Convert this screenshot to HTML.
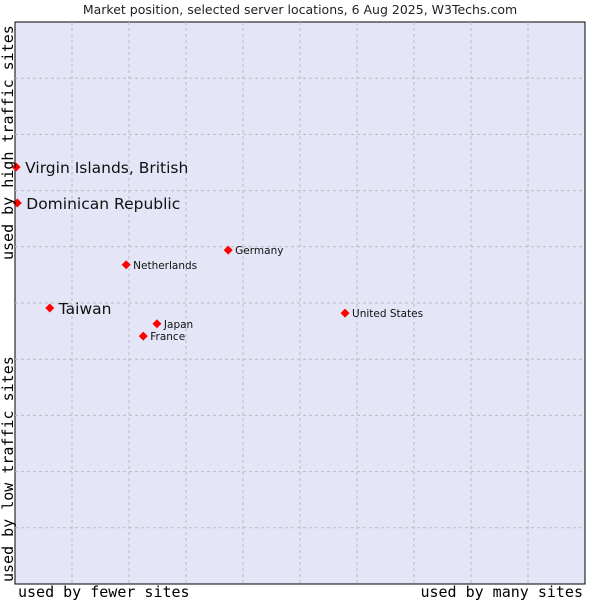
<!DOCTYPE html>
<html><head><meta charset="utf-8"><style>
body{margin:0;background:#fff;width:600px;height:600px;overflow:hidden}
svg{display:block}
</style></head><body>
<svg id="chart" width="600" height="600" xmlns="http://www.w3.org/2000/svg" font-family="DejaVu Sans, sans-serif">
<text x="300" y="14" font-size="12.5" text-anchor="middle" fill="#222">Market position, selected server locations, 6 Aug 2025, W3Techs.com</text>
<rect x="15" y="22" width="570" height="562" fill="#e4e6f8" stroke="#000" stroke-width="1"/>
<g id="grid"></g>
<g id="points"></g>
<text transform="translate(13,260) rotate(-90)" font-family="DejaVu Sans Mono, monospace" font-size="15" fill="#000">used by high traffic sites</text>
<text transform="translate(13,582) rotate(-90)" font-family="DejaVu Sans Mono, monospace" font-size="15" fill="#000">used by low traffic sites</text>
<text x="18" y="597" font-family="DejaVu Sans Mono, monospace" font-size="15" fill="#000">used by fewer sites</text>
<text x="583" y="597" text-anchor="end" font-family="DejaVu Sans Mono, monospace" font-size="15" fill="#000">used by many sites</text>
</svg>
<script>
const names=["Virgin Islands, British","Dominican Republic","Netherlands","Germany","Taiwan","Japan","France","United States"];
const xs=[0.2,0.4,19.5,37.4,6.1,24.9,22.5,57.9];
const ys=[74.2,67.8,56.8,59.4,49.1,46.3,44.1,48.2];
const big=[1,1,0,0,1,0,0,0];
const X0=15,W=570,Y0=22,H=562;
const sx=v=>X0+v/100*W, sy=v=>Y0+H-v/100*H;
const NS="http://www.w3.org/2000/svg";
const g=document.getElementById('grid');
for(let i=1;i<10;i++){
 let l=document.createElementNS(NS,'line');
 
 
 l.setAttribute('x1',sx(i*10));l.setAttribute('x2',sx(i*10));l.setAttribute('y1',Y0);l.setAttribute('y2',Y0+H);
 l.setAttribute('stroke','#bbb');l.setAttribute('stroke-dasharray','3,3');g.appendChild(l);
 let h=document.createElementNS(NS,'line');
 
 
 h.setAttribute('y1',sy(i*10));h.setAttribute('y2',sy(i*10));h.setAttribute('x1',X0);h.setAttribute('x2',X0+W);
 h.setAttribute('stroke','#bbb');h.setAttribute('stroke-dasharray','3,3');g.appendChild(h);
}
const p=document.getElementById('points');
names.forEach((n,i)=>{
 const cx=sx(xs[i]),cy=sy(ys[i]);
 let d=document.createElementNS(NS,'polygon');
 
 
 d.setAttribute('points',`${cx},${cy-4.5} ${cx+4.5},${cy} ${cx},${cy+4.5} ${cx-4.5},${cy}`);
 d.setAttribute('fill','#f00');p.appendChild(d);
 let t=document.createElementNS(NS,'text');
 
 
 t.setAttribute('x',cx+(big[i]?9:7));t.setAttribute('y',cy+(big[i]?6:4));
 t.setAttribute('font-size',big[i]?15.5:10.5);t.setAttribute('fill','#111');
 t.textContent=n;p.appendChild(t);
});
</script>
</body></html>
